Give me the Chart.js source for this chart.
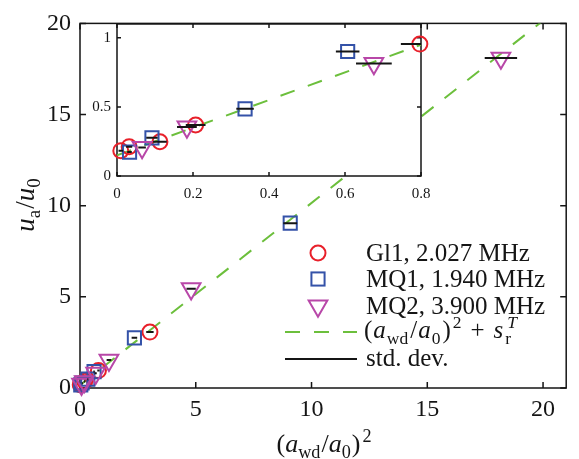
<!DOCTYPE html>
<html><head><meta charset="utf-8">
<script src="https://cdn.jsdelivr.net/npm/chart.js@4/dist/chart.umd.min.js"></script>
<style>
html,body{margin:0;padding:0;background:#fff;}
#wrap{position:relative;width:579px;height:459px;}
canvas{position:absolute;left:0;top:0;}
</style></head><body>
<div id="wrap"><canvas id="main" width="579" height="459"></canvas><canvas id="inset" width="579" height="459"></canvas></div>
<script>
// ---- data ----
const gl1X  = [0.010, 0.032, 0.113, 0.207, 0.797, 3.02];
const gl1Y  = [0.183, 0.212, 0.248, 0.369, 0.955, 3.07];
const gl1Sd = [0.006, 0.008, 0.018, 0.026, 0.050, 0.16];
const mq1X  = [0.033, 0.092, 0.337, 0.607, 2.35, 9.08];
const mq1Y  = [0.173, 0.276, 0.486, 0.901, 2.75, 9.04];
const mq1Sd = [0.006, 0.015, 0.023, 0.031, 0.12, 0.30];
const mq2X  = [0.066, 0.184, 0.676, 1.25, 4.80, 18.18];
const mq2Y  = [0.207, 0.355, 0.815, 1.53, 5.45, 18.10];
const mq2Sd = [0.010, 0.026, 0.047, 0.10, 0.20, 0.70];
const fitX = [0, 20];
const fitY = [0.15, 20.15];
const mainXTicks = [0, 5, 10, 15, 20];
const mainYTicks = [0, 5, 10, 15, 20];
const insetXTicks = [0, 0.2, 0.4, 0.6, 0.8];
const insetYTicks = [0, 0.5, 1];
const legendLabels = ['Gl1, 2.027 MHz', 'MQ1, 1.940 MHz', 'MQ2, 3.900 MHz'];

// ---- styles ----
const serif = "'Liberation Serif', 'Times New Roman', serif";
const RED = '#e8202a', BLUE = '#3452a8', MAG = '#b847a8', GREEN = '#6cbf3c', BLK = '#151515';
const DASH = [15, 14];

function pts(xs, ys) { return xs.map((x, i) => ({x: x, y: ys[i]})); }
function sdData(xs, ys, sds) {
  const out = [];
  for (let i = 0; i < xs.length; i++) {
    out.push({x: xs[i] - sds[i], y: ys[i]}, {x: xs[i] + sds[i], y: ys[i]}, {x: xs[i], y: null});
  }
  return out;
}
function datasets() {
  return [
    {data: pts(fitX, fitY), showLine: true, borderColor: GREEN, borderWidth: 2, borderDash: DASH, pointRadius: 0, order: 5, clip: true},
    {data: pts(gl1X, gl1Y), pointStyle: 'circle', pointRadius: 7.5, borderColor: RED, backgroundColor: 'rgba(0,0,0,0)', pointBorderWidth: 2, order: 3, clip: false},
    {data: pts(mq1X, mq1Y), pointStyle: 'rect', pointRadius: 9.3, borderColor: BLUE, backgroundColor: 'rgba(0,0,0,0)', pointBorderWidth: 2, order: 2, clip: false},
    {data: pts(mq2X, mq2Y), pointStyle: 'triangle', pointRotation: 180, pointRadius: 10.8, borderColor: MAG, backgroundColor: 'rgba(0,0,0,0)', pointBorderWidth: 2, order: 1, clip: false},
    {data: sdData(gl1X, gl1Y, gl1Sd), showLine: true, spanGaps: false, borderColor: BLK, borderWidth: 2, pointRadius: 0, order: 0, clip: true},
    {data: sdData(mq1X, mq1Y, mq1Sd), showLine: true, spanGaps: false, borderColor: BLK, borderWidth: 2, pointRadius: 0, order: 0, clip: true},
    {data: sdData(mq2X, mq2Y, mq2Sd), showLine: true, spanGaps: false, borderColor: BLK, borderWidth: 2, pointRadius: 0, order: 0, clip: true}
  ];
}

function drawRich(ctx, segs, x, y, size, align) {
  const parts = segs.map(s => {
    const sz = (s.sub || s.sup) ? size * 0.7 : size;
    const font = (s.it ? 'italic ' : '') + sz + 'px ' + serif;
    ctx.font = font;
    const w = ctx.measureText(s.t).width;
    return Object.assign({}, s, {font: font, adv: s.noAdv ? 0 : w + (s.gap || 0)});
  });
  const total = parts.reduce((a, p) => a + p.adv + (p.pre || 0), 0);
  let cx = align === 'center' ? x - total / 2 : (align === 'right' ? x - total : x);
  ctx.textAlign = 'left';
  ctx.textBaseline = 'alphabetic';
  for (const p of parts) {
    ctx.font = p.font;
    let dy = 0;
    if (p.sub) dy = size * 0.22;
    if (p.sup) dy = -size * 0.40;
    ctx.fillText(p.t, cx + (p.pre || 0), y + dy);
    cx += p.adv + (p.pre || 0);
  }
}

function framePlugin(tickVals, len, lw) {
  return {
    id: 'frame',
    beforeDatasetsDraw(chart) {
      const ctx = chart.ctx, a = chart.chartArea, xs = chart.scales.x, ys = chart.scales.y;
      ctx.save();
      ctx.strokeStyle = BLK;
      ctx.lineWidth = lw;
      ctx.setLineDash([]);
      ctx.strokeRect(a.left, a.top, a.right - a.left, a.bottom - a.top);
      ctx.beginPath();
      tickVals.x.forEach(v => {
        const px = xs.getPixelForValue(v);
        ctx.moveTo(px, a.bottom); ctx.lineTo(px, a.bottom - len);
        ctx.moveTo(px, a.top); ctx.lineTo(px, a.top + len);
      });
      tickVals.y.forEach(v => {
        const py = ys.getPixelForValue(v);
        ctx.moveTo(a.left, py); ctx.lineTo(a.left + len, py);
        ctx.moveTo(a.right, py); ctx.lineTo(a.right - len, py);
      });
      ctx.stroke();
      ctx.restore();
    }
  };
}

const labelPlugin = {
  id: 'labels',
  afterDraw(chart) {
    const ctx = chart.ctx;
    ctx.save();
    ctx.fillStyle = BLK;
    // x title
    drawRich(ctx, [
      {t: '('}, {t: 'a', it: true}, {t: 'wd', sub: true}, {t: '/', pre: 1}, {t: 'a', it: true}, {t: '0', sub: true}, {t: ')', pre: 1}, {t: '2', sup: true, pre: 2}
    ], 324, 452, 26, 'center');
    // y title
    ctx.save();
    ctx.translate(34, 205);
    ctx.rotate(-Math.PI / 2);
    drawRich(ctx, [
      {t: 'u', it: true}, {t: 'a', sub: true}, {t: '/', pre: 1}, {t: 'u', it: true}, {t: '0', sub: true}
    ], 0, 0, 27, 'center');
    ctx.restore();
    // legend
    const mx = 318, tx = 366, rows = [253, 279, 306, 332, 359];
    ctx.lineWidth = 2;
    ctx.setLineDash([]);
    ctx.strokeStyle = RED;
    ctx.beginPath(); ctx.arc(mx, rows[0], 7.5, 0, Math.PI * 2); ctx.stroke();
    ctx.strokeStyle = BLUE;
    const hs = 9.3 * Math.SQRT1_2;
    ctx.strokeRect(mx - hs, rows[1] - hs, 2 * hs, 2 * hs);
    ctx.strokeStyle = MAG;
    ctx.beginPath();
    const r = 10.8;
    for (let k = 0; k < 3; k++) {
      const ang = Math.PI + k * 2 * Math.PI / 3;
      const px = mx + Math.sin(ang) * r, py = rows[2] - Math.cos(ang) * r;
      if (k === 0) ctx.moveTo(px, py); else ctx.lineTo(px, py);
    }
    ctx.closePath(); ctx.stroke();
    ctx.strokeStyle = GREEN;
    ctx.setLineDash(DASH);
    ctx.beginPath(); ctx.moveTo(285, rows[3]); ctx.lineTo(357, rows[3]); ctx.stroke();
    ctx.setLineDash([]);
    ctx.strokeStyle = BLK;
    ctx.beginPath(); ctx.moveTo(285, rows[4]); ctx.lineTo(357, rows[4]); ctx.stroke();
    ctx.fillStyle = BLK;
    const fs = 25;
    for (let i = 0; i < 3; i++) drawRich(ctx, [{t: legendLabels[i]}], tx, rows[i] + 8, fs, 'left');
    drawRich(ctx, [
      {t: '('}, {t: 'a', it: true, pre: 1}, {t: 'wd', sub: true, pre: 1}, {t: '/', pre: 2}, {t: 'a', it: true, pre: 1}, {t: '0', sub: true, pre: 1}, {t: ')', pre: 2}, {t: '2', sup: true, pre: 2},
      {t: '+', pre: 9, gap: 9}, {t: 's', it: true}, {t: 'r', sub: true, noAdv: true, pre: 2}, {t: 'T', it: true, sup: true, pre: 2}
    ], tx - 2, rows[3] + 6, fs, 'left');
    drawRich(ctx, [{t: 'std. dev.'}], tx, rows[4] + 7, fs, 'left');
    ctx.restore();
  }
};

const mainChart = new Chart(document.getElementById('main'), {
  type: 'scatter',
  data: {datasets: datasets()},
  options: {
    responsive: false, animation: false, devicePixelRatio: 1, events: [],
    layout: {padding: {top: 10, right: 8, left: 0, bottom: 0}},
    plugins: {legend: {display: false}, tooltip: {enabled: false}},
    scales: {
      x: {type: 'linear', min: 0, max: 21,
        afterBuildTicks: s => { s.ticks = mainXTicks.map(v => ({value: v})); },
        afterFit: s => { s.height = 71; },
        grid: {display: false, drawTicks: false}, border: {display: false},
        ticks: {font: {family: serif, size: 24}, color: BLK, padding: 7, maxRotation: 0, autoSkip: false, callback: v => String(v)}},
      y: {type: 'linear', min: 0, max: 20,
        afterBuildTicks: s => { s.ticks = mainYTicks.map(v => ({value: v})); },
        afterFit: s => { s.width = 80; },
        grid: {display: false, drawTicks: false}, border: {display: false},
        ticks: {font: {family: serif, size: 24}, color: BLK, padding: 9, autoSkip: false, callback: v => String(v)}}
    }
  },
  plugins: [framePlugin({x: mainXTicks, y: mainYTicks}, 6, 1.5), labelPlugin]
});

const insetBg = {
  id: 'insetBg',
  beforeDraw(chart) {
    const a = chart.chartArea, ctx = chart.ctx;
    ctx.save(); ctx.fillStyle = '#fff';
    ctx.fillRect(a.left, a.top, a.right - a.left, a.bottom - a.top);
    ctx.restore();
  }
};

const insetChart = new Chart(document.getElementById('inset'), {
  type: 'scatter',
  data: {datasets: datasets()},
  options: {
    responsive: false, animation: false, devicePixelRatio: 1, events: [],
    layout: {padding: {top: 24, right: 158, left: 77, bottom: 253}},
    plugins: {legend: {display: false}, tooltip: {enabled: false}},
    scales: {
      x: {type: 'linear', min: 0, max: 0.8,
        afterBuildTicks: s => { s.ticks = insetXTicks.map(v => ({value: v})); },
        afterFit: s => { s.height = 30; },
        grid: {display: false, drawTicks: false}, border: {display: false},
        ticks: {font: {family: serif, size: 15}, color: BLK, padding: 9, maxRotation: 0, autoSkip: false, callback: v => String(v)}},
      y: {type: 'linear', min: 0, max: 1.1,
        afterBuildTicks: s => { s.ticks = insetYTicks.map(v => ({value: v})); },
        afterFit: s => { s.width = 40; },
        grid: {display: false, drawTicks: false}, border: {display: false},
        ticks: {font: {family: serif, size: 15}, color: BLK, padding: 6, autoSkip: false, callback: v => String(v)}}
    }
  },
  plugins: [insetBg, framePlugin({x: insetXTicks, y: insetYTicks}, 4, 1.5)]
});
</script>
</body></html>
